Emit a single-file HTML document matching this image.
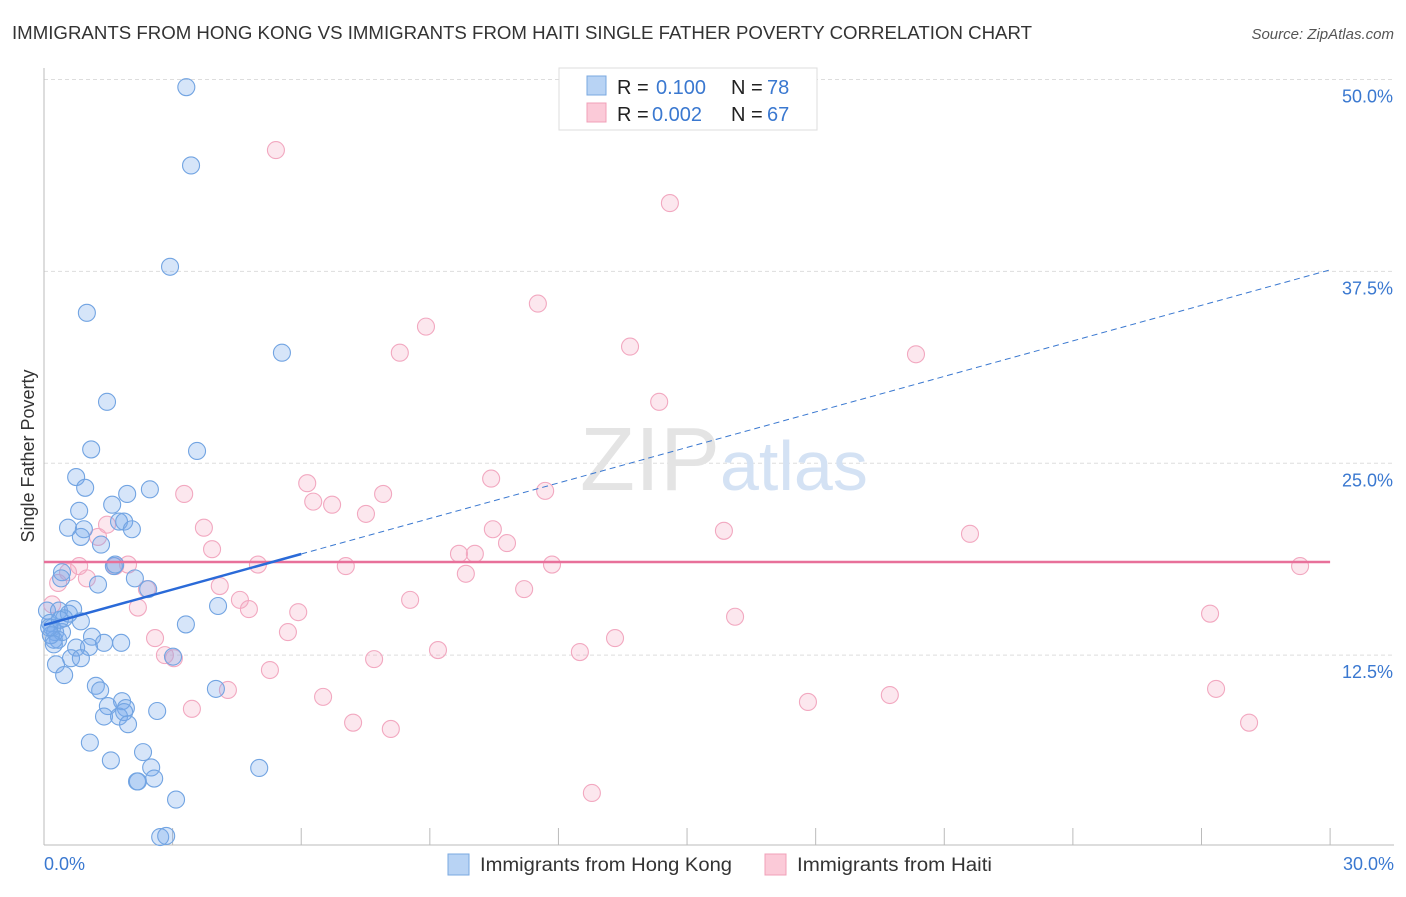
<!DOCTYPE html>
<html><head><meta charset="utf-8"><style>
body{margin:0;background:#fff;font-family:"Liberation Sans",sans-serif;}
svg text{font-family:"Liberation Sans",sans-serif;}
</style></head><body>
<svg id="chart" width="1406" height="892" xmlns="http://www.w3.org/2000/svg">
<text x="12" y="39" font-size="18" fill="#333" textLength="1020" lengthAdjust="spacingAndGlyphs">IMMIGRANTS FROM HONG KONG VS IMMIGRANTS FROM HAITI SINGLE FATHER POVERTY CORRELATION CHART</text>
<text x="1394" y="39" font-size="15" fill="#555" font-style="italic" text-anchor="end">Source: ZipAtlas.com</text>
<text x="34" y="456" font-size="18" fill="#333" transform="rotate(-90 34 456)" text-anchor="middle">Single Father Poverty</text>
<g id="grid"></g>
<text x="720" y="490" font-size="90" fill="#e4e4e4" text-anchor="end" font-family="Liberation Serif">ZIP</text>
<text x="720" y="490" font-size="70" fill="#d4e2f4">atlas</text>
<g id="axes"></g>
<g id="pink"></g>
<g id="blue"></g>
<g id="trends"></g>
<g>
<rect x="559" y="68" width="258" height="62" fill="#fff" stroke="#ddd"/>
<rect x="587" y="76" width="19" height="19" fill="#b8d3f4" stroke="#7aa8e0"/>
<rect x="587" y="103" width="19" height="19" fill="#fbcad8" stroke="#f0a0b8"/>
<text y="94" font-size="20" fill="#222"><tspan x="617">R =</tspan><tspan x="656" fill="#3a78d0">0.100</tspan><tspan x="731">N =</tspan><tspan x="767" fill="#3a78d0">78</tspan></text>
<text y="121" font-size="20" fill="#222"><tspan x="617">R =</tspan><tspan x="652" fill="#3a78d0">0.002</tspan><tspan x="731">N =</tspan><tspan x="767" fill="#3a78d0">67</tspan></text>
</g>
<g>
<rect x="448" y="854" width="21" height="21" fill="#b8d3f4" stroke="#7aa8e0"/>
<text x="480" y="871" font-size="19" fill="#333" textLength="252" lengthAdjust="spacingAndGlyphs">Immigrants from Hong Kong</text>
<rect x="765" y="854" width="21" height="21" fill="#fbcad8" stroke="#f0a0b8"/>
<text x="797" y="871" font-size="19" fill="#333" textLength="195" lengthAdjust="spacingAndGlyphs">Immigrants from Haiti</text>
</g>
</svg>
<script>
const yTicks=[12.5,25,37.5,50];
const yTickLabels=["12.5%","25.0%","37.5%","50.0%"];
const xTickVals=[0,3,6,9,12,15,18,21,24,27,30];
const xEndLabels=["0.0%","30.0%"];
const blueX=[3.32,3.43,2.94,1.0,5.55,1.47,1.1,3.57,0.75,0.96,1.94,2.47,1.59,0.82,0.56,0.93,1.75,1.87,2.05,0.86,1.33,1.63,0.42,0.40,2.12,2.43,1.26,0.07,0.35,0.68,0.58,0.47,0.86,0.14,0.19,0.26,0.33,0.42,1.12,1.4,1.8,0.75,1.05,0.63,0.86,0.23,0.28,0.47,4.06,3.31,1.21,1.31,4.01,1.82,1.49,1.91,1.4,1.75,1.87,2.64,1.96,1.07,2.31,1.56,2.5,2.57,2.17,2.19,3.08,5.02,2.71,2.85,3.01,1.66,0.16,0.23,0.12,0.37];
const blueY=[49.5,44.4,37.8,34.8,32.2,29.0,25.9,25.8,24.1,23.4,23.0,23.3,22.3,21.9,20.8,20.7,21.2,21.2,20.7,20.2,19.7,18.3,17.9,17.5,17.5,16.8,17.1,15.4,15.4,15.5,15.2,14.9,14.7,14.6,14.3,14.0,13.5,14.0,13.7,13.3,13.3,12.99,13.03,12.3,12.3,13.5,11.9,11.2,15.7,14.5,10.5,10.2,10.3,9.5,9.18,9.05,8.5,8.5,8.79,8.86,8.0,6.8,6.18,5.64,5.18,4.46,4.27,4.27,3.09,5.15,0.65,0.72,12.4,18.4,13.8,13.2,14.3,14.8];
const pinkX=[5.41,14.6,11.52,8.91,8.3,13.67,20.34,14.35,6.14,3.27,7.91,10.43,11.69,6.28,6.72,7.51,3.73,10.47,10.8,15.86,21.6,1.47,1.26,3.92,9.68,10.05,4.99,7.04,11.85,9.84,1.66,1.96,0.82,0.56,1.0,0.33,2.4,4.1,11.2,29.3,8.54,4.57,4.78,5.93,2.19,0.19,27.2,16.12,5.69,13.32,2.59,9.19,12.5,2.82,3.03,7.7,5.27,4.29,3.45,6.51,17.82,19.73,27.34,28.11,7.21,8.09,12.78];
const pinkY=[45.4,41.95,35.4,33.9,32.2,32.6,32.1,29.0,23.7,23.0,23.0,24.0,23.2,22.5,22.3,21.7,20.8,20.7,19.8,20.6,20.4,21.0,20.2,19.4,19.1,19.1,18.4,18.3,18.4,17.8,18.3,18.4,18.3,17.9,17.5,17.2,16.8,17.0,16.8,18.3,16.1,16.1,15.5,15.3,15.6,15.8,15.2,15.0,14.0,13.61,13.61,12.83,12.7,12.5,12.3,12.24,11.53,10.23,9.0,9.78,9.45,9.9,10.3,8.1,8.1,7.69,3.52];
const blueTrend=[14.46,37.6]; const blueSolidEnd=6.0;
const pinkTrend=[18.57,18.57];

const NS="http://www.w3.org/2000/svg";
const X=v=>44+v*42.87, Y=v=>847-v*15.35;
function mk(tag,attrs,parent){const e=document.createElementNS(NS,tag);for(const k in attrs)e.setAttribute(k,attrs[k]);parent.appendChild(e);return e;}
const grid=document.getElementById('grid'),axes=document.getElementById('axes');
yTicks.forEach((t,i)=>{
 const l=mk('line',{x1:44,x2:1394,y1:Y(t),y2:Y(t),stroke:'#ddd','stroke-dasharray':'4,3'},grid);
 
 
 const tx=mk('text',{x:1393,y:Y(t)+23,'font-size':18,fill:'#3a78d0','text-anchor':'end'},axes);
 tx.textContent=yTickLabels[i];
 
 
});
let a=mk('line',{x1:44,x2:44,y1:68,y2:845,stroke:'#bbb'},axes);


a=mk('line',{x1:44,x2:1394,y1:845,y2:845,stroke:'#bbb'},axes);


xTickVals.forEach(v=>{
 const t=mk('line',{x1:X(v),x2:X(v),y1:828,y2:845,stroke:'#bbb'},axes);
 
 
});
let t0=mk('text',{x:44,y:870,'font-size':18,fill:'#3a78d0'},axes);t0.textContent=xEndLabels[0];


t0=mk('text',{x:1394,y:870,'font-size':18,fill:'#3a78d0','text-anchor':'end'},axes);t0.textContent=xEndLabels[1];


const pg=document.getElementById('pink');
pinkX.forEach((x,i)=>{const c=mk('circle',{cx:X(x),cy:Y(pinkY[i]),r:8.5,fill:'rgba(246,170,195,0.28)',stroke:'#f2a8c0','stroke-width':1.1},pg);
 
 });
const bg=document.getElementById('blue');
blueX.forEach((x,i)=>{const c=mk('circle',{cx:X(x),cy:Y(blueY[i]),r:8.5,fill:'rgba(120,170,235,0.3)',stroke:'#72a4e2','stroke-width':1.1},bg);
 
 });
const tr=document.getElementById('trends');
const bAt=v=>blueTrend[0]+(blueTrend[1]-blueTrend[0])*v/30;
let l=mk('line',{x1:X(0),y1:Y(pinkTrend[0]),x2:X(30),y2:Y(pinkTrend[1]),stroke:'#e8709a','stroke-width':2.5},tr);


l=mk('line',{x1:X(blueSolidEnd),y1:Y(bAt(blueSolidEnd)),x2:X(30),y2:Y(bAt(30)),stroke:'#3a78d0','stroke-width':1,'stroke-dasharray':'6,4'},tr);


l=mk('line',{x1:X(0),y1:Y(bAt(0)),x2:X(blueSolidEnd),y2:Y(bAt(blueSolidEnd)),stroke:'#2a6ad8','stroke-width':2.5},tr);


</script>
</body></html>
